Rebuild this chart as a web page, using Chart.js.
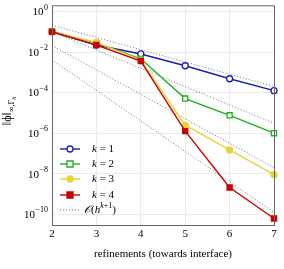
<!DOCTYPE html>
<html>
<head>
<meta charset="utf-8">
<script src="https://cdn.jsdelivr.net/npm/chart.js@4/dist/chart.umd.min.js"></script>
<style>
  html, body { margin: 0; padding: 0; background: #fff; }
</style>
</head>
<body>
<canvas id="chart" width="284" height="269"></canvas>
<script>
// Data
const refinements = [2, 3, 4, 5, 6, 7];
const errK1 = [0.1, 0.022, 0.008, 0.0021, 4.8e-4, 1.25e-4];
const errK2 = [0.1, 0.028, 0.0046, 5.1e-5, 7.6e-6, 1.0e-6];
const errK3 = [0.1, 0.03, 0.004, 2.5e-6, 1.5e-7, 9e-9];
const errK4 = [0.1, 0.022, 0.0036, 1.26e-6, 2.1e-9, 6.3e-11];

// O(h^{k+1}) guide lines, one per k: value at first and last refinement
const guideX = [2, 7];
const guideStart = [0.21, 0.10, 0.021, 0.0041];
const guideEnd = [2.0e-4, 3.1e-6, 2.0e-8, 1.26e-10];

const yTicks = [1e-10, 1e-8, 1e-6, 1e-4, 1e-2, 1];
const yTickExp = ['\u221210', '\u22128', '\u22126', '\u22124', '\u22122', '0'];

const seriesLabels = ['k = 1', 'k = 2', 'k = 3', 'k = 4'];
const seriesColors = ['#1c1cb4', '#1fae1f', '#e6d43a', '#c80000'];
const seriesMarkers = ['circle', 'rect', 'circle', 'rect'];
const seriesFilled = [false, false, true, true];

const SERIF = '"Liberation Serif", "DejaVu Serif", serif';

function toPoints(xs, ys) {
    return xs.map((x, i) => ({ x: x, y: ys[i] }));
}

const errors = [errK1, errK2, errK3, errK4];

const datasets = errors.map((ys, i) => ({
    label: seriesLabels[i],
    data: toPoints(refinements, ys),
    showLine: true,
    borderColor: seriesColors[i],
    borderWidth: 1.4,
    pointStyle: seriesMarkers[i],
    pointRadius: seriesMarkers[i] === 'rect' ? 3.6 : 3,
    pointBorderWidth: 1.3,
    pointBackgroundColor: seriesFilled[i] ? seriesColors[i] : '#fff',
    pointBorderColor: seriesColors[i],
    order: 4 - i
}));

guideStart.forEach((v, i) => {
    datasets.push({
        label: 'guide' + i,
        data: toPoints(guideX, [v, guideEnd[i]]),
        showLine: true,
        borderColor: '#666',
        borderWidth: 0.9,
        borderDash: [1, 2],
        pointRadius: 0,
        order: 10
    });
});

// draws frame, tick labels, titles and the legend inside the plot
const decorations = {
    id: 'decorations',
    afterDraw(chart) {
        const ctx = chart.ctx;
        const a = chart.chartArea;
        const ys = chart.scales.y;

        ctx.save();
        ctx.strokeStyle = '#666';
        ctx.lineWidth = 1;
        ctx.strokeRect(a.left + 0.5, a.top + 0.5, a.right - a.left, a.bottom - a.top);

        // y tick labels as 10^n
        ctx.fillStyle = '#000';
        ctx.textBaseline = 'middle';
        yTicks.forEach((v, i) => {
            const py = ys.getPixelForValue(v);
            ctx.font = '8px ' + SERIF;
            const ew = ctx.measureText(yTickExp[i]).width;
            ctx.textAlign = 'left';
            const expX = a.left - 4 - ew;
            ctx.fillText(yTickExp[i], expX, py - 4);
            ctx.font = '11px ' + SERIF;
            ctx.textAlign = 'right';
            ctx.fillText('10', expX - 0.5, py + 1);
        });

        // x title
        ctx.font = '11px ' + SERIF;
        ctx.textAlign = 'center';
        ctx.textBaseline = 'alphabetic';
        ctx.fillText('refinements (towards interface)', (a.left + a.right) / 2, 257);

        // y title, rotated
        ctx.save();
        ctx.translate(11, 111);
        ctx.rotate(-Math.PI / 2);
        const mainTxt = '\u2016\u03d5\u2016';
        ctx.font = '12px ' + SERIF;
        const w1 = ctx.measureText(mainTxt).width;
        ctx.font = '8px ' + SERIF;
        const w2 = ctx.measureText('\u221e,\u0393').width;
        ctx.font = 'italic 6px ' + SERIF;
        const w3 = ctx.measureText('h').width;
        let x0 = -(w1 + w2 + w3) / 2;
        ctx.textAlign = 'left';
        ctx.font = '12px ' + SERIF;
        ctx.fillText(mainTxt, x0, 0);
        ctx.font = '8px ' + SERIF;
        ctx.fillText('\u221e,\u0393', x0 + w1, 3);
        ctx.font = 'italic 6px ' + SERIF;
        ctx.fillText('h', x0 + w1 + w2, 5);
        ctx.restore();

        // legend
        const rowY = [149, 164, 179, 195, 210];
        const lx0 = 60, lx1 = 80, tx = 92;
        ctx.textBaseline = 'middle';
        ctx.textAlign = 'left';
        for (let i = 0; i < 4; i++) {
            const y = rowY[i];
            ctx.strokeStyle = seriesColors[i];
            ctx.lineWidth = 1.4;
            ctx.setLineDash([]);
            ctx.beginPath();
            ctx.moveTo(lx0, y);
            ctx.lineTo(lx1, y);
            ctx.stroke();
            ctx.fillStyle = seriesFilled[i] ? seriesColors[i] : '#fff';
            ctx.lineWidth = 1.3;
            ctx.beginPath();
            if (seriesMarkers[i] === 'rect') {
                ctx.rect(70 - 3, y - 3, 6, 6);
            } else {
                ctx.arc(70, y, 3, 0, Math.PI * 2);
            }
            ctx.fill();
            ctx.stroke();

            ctx.fillStyle = '#000';
            ctx.font = 'italic 11px ' + SERIF;
            ctx.fillText('k', tx, y);
            const kw = ctx.measureText('k').width;
            ctx.font = '11px ' + SERIF;
            ctx.fillText(' = ' + (i + 1), tx + kw, y);
        }
        // guide entry
        const gy = rowY[4];
        ctx.strokeStyle = '#666';
        ctx.lineWidth = 0.9;
        ctx.setLineDash([1, 2]);
        ctx.beginPath();
        ctx.moveTo(lx0, gy);
        ctx.lineTo(lx1, gy);
        ctx.stroke();
        ctx.setLineDash([]);
        ctx.fillStyle = '#000';
        let px = 84;
        ctx.font = 'italic 11px ' + SERIF;
        ctx.fillText('\ud835\udcaa', px, gy);
        px += ctx.measureText('\ud835\udcaa').width;
        ctx.font = '11px ' + SERIF;
        ctx.fillText('(', px, gy);
        px += ctx.measureText('(').width;
        ctx.font = 'italic 11px ' + SERIF;
        ctx.fillText('h', px, gy);
        px += ctx.measureText('h').width;
        ctx.font = 'italic 8px ' + SERIF;
        ctx.fillText('k', px, gy - 4);
        px += ctx.measureText('k').width;
        ctx.font = '8px ' + SERIF;
        ctx.fillText('+1', px, gy - 4);
        px += ctx.measureText('+1').width;
        ctx.font = '11px ' + SERIF;
        ctx.fillText(')', px, gy);

        ctx.restore();
    }
};

new Chart(document.getElementById('chart'), {
    type: 'scatter',
    data: { datasets: datasets },
    plugins: [decorations],
    options: {
        responsive: false,
        animation: false,
        devicePixelRatio: 1,
        layout: { padding: { top: 3, right: 10, left: 0, bottom: 0 } },
        plugins: {
            legend: { display: false },
            tooltip: { enabled: false }
        },
        elements: { line: { tension: 0 } },
        clip: false,
        scales: {
            x: {
                type: 'linear',
                min: 2,
                max: 7,
                afterBuildTicks: s => { s.ticks = refinements.map(v => ({ value: v })); },
                ticks: {
                    color: '#000',
                    font: { family: SERIF, size: 11 },
                    padding: 3
                },
                grid: { color: '#ebebeb', drawTicks: false },
                border: { display: false },
                afterFit: s => { s.height = 44; }
            },
            y: {
                type: 'logarithmic',
                min: 3e-11,
                max: 2,
                afterBuildTicks: s => { s.ticks = yTicks.map(v => ({ value: v })); },
                ticks: { display: false },
                grid: { color: '#ebebeb', drawTicks: false },
                border: { display: false },
                afterFit: s => { s.width = 52; }
            }
        }
    }
});
</script>
</body>
</html>
